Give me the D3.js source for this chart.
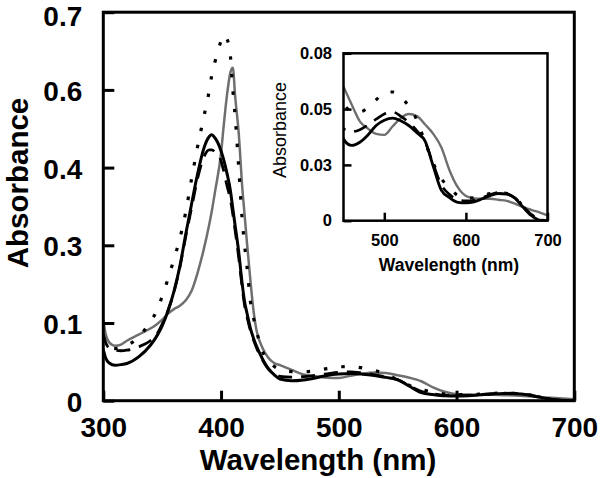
<!DOCTYPE html>
<html>
<head>
<meta charset="utf-8">
<script src="https://cdn.jsdelivr.net/npm/d3@7"></script>
<style>
  html, body { margin: 0; padding: 0; background: #fff; }
  svg { display: block; }
  text { font-family: "Liberation Sans", Arial, Helvetica, sans-serif; fill: #000; }
</style>
</head>
<body>
<svg id="chart" width="601" height="478"></svg>
<script>
// ---------------- data ----------------
const wavelengths = [300,302,305,310,315,320,330,340,345,350,355,360,365,370,375,380,385,390,392,395,400,402,405,408,410,412,415,418,420,422,425,428,430,435,440,445,450,460,470,480,490,500,510,520,530,540,550,560,570,580,590,600,610,620,630,640,650,660,670,680,690,700];

const solidBlack = [0.092,0.077,0.068,0.064,0.065,0.067,0.079,0.100,0.115,0.135,0.162,0.197,0.242,0.300,0.355,0.408,0.452,0.476,0.479,0.473,0.450,0.436,0.410,0.378,0.346,0.315,0.268,0.210,0.178,0.158,0.130,0.110,0.099,0.076,0.058,0.047,0.039,0.036,0.0375,0.041,0.0455,0.048,0.049,0.0478,0.0455,0.042,0.038,0.026,0.0145,0.011,0.0088,0.0085,0.009,0.0105,0.012,0.013,0.0127,0.0108,0.0065,0.0025,0.0003,0];

const dashedBlack = [0.120,0.105,0.095,0.091,0.090,0.091,0.097,0.108,0.118,0.138,0.163,0.196,0.240,0.296,0.348,0.400,0.437,0.452,0.452,0.448,0.432,0.416,0.388,0.362,0.336,0.306,0.258,0.203,0.172,0.152,0.126,0.107,0.096,0.074,0.058,0.049,0.044,0.0425,0.0435,0.0458,0.0485,0.051,0.052,0.050,0.047,0.043,0.0375,0.027,0.017,0.0125,0.010,0.0095,0.0098,0.011,0.0125,0.0135,0.013,0.011,0.007,0.003,0.0006,0];

const dottedBlack = [0.115,0.103,0.096,0.094,0.096,0.100,0.114,0.143,0.160,0.188,0.220,0.255,0.292,0.340,0.400,0.457,0.508,0.559,0.585,0.612,0.648,0.659,0.652,0.620,0.560,0.512,0.420,0.325,0.280,0.242,0.178,0.145,0.127,0.090,0.072,0.062,0.056,0.0525,0.052,0.054,0.0578,0.061,0.0615,0.059,0.0548,0.048,0.0375,0.0275,0.020,0.016,0.012,0.0108,0.011,0.012,0.013,0.0138,0.013,0.011,0.007,0.003,0.0006,0];

const grayLine = [0.145,0.120,0.105,0.099,0.101,0.108,0.119,0.130,0.137,0.146,0.157,0.165,0.171,0.181,0.198,0.230,0.270,0.318,0.340,0.378,0.446,0.490,0.550,0.592,0.600,0.548,0.482,0.385,0.335,0.285,0.215,0.155,0.128,0.096,0.078,0.068,0.064,0.0555,0.0475,0.044,0.0415,0.041,0.045,0.049,0.051,0.050,0.046,0.0415,0.035,0.024,0.016,0.0118,0.0107,0.0105,0.0105,0.010,0.0095,0.0082,0.0065,0.0052,0.004,0.0025];

const mainXDomain = [300, 700];
const mainYDomain = [0, 0.7];
const mainXTicks = [300, 400, 500, 600, 700];
const mainXTickLabels = ["300", "400", "500", "600", "700"];
const mainYTicks = [0, 0.14, 0.28, 0.42, 0.56, 0.7];
const mainYTickLabels = ["0", "0.1", "0.3", "0.4", "0.6", "0.7"];

const insetXDomain = [450, 700];
const insetYDomain = [0, 0.08];
const insetXTicks = [500, 600, 700];
const insetXTickLabels = ["500", "600", "700"];
const insetYTicks = [0, 0.08 / 3, 0.16 / 3, 0.08];
const insetYTickLabels = ["0", "0.03", "0.05", "0.08"];

const xTitle = "Wavelength (nm)";
const yTitle = "Absorbance";

// ---------------- drawing ----------------
const svg = d3.select("#chart");

const seriesDefs = [
  { values: grayLine,    color: "#6f6f6f", width: 2.5, dash: null },
  { values: dottedBlack, color: "#000",    width: 3.2, dash: "3.5,14" },
  { values: dashedBlack, color: "#000",    width: 2.8, dash: "14,9" },
  { values: solidBlack,  color: "#000",    width: 3,   dash: null }
];

function drawPanel(g, opts) {
  const x = d3.scaleLinear().domain(opts.xDomain).range([opts.left, opts.right]);
  const y = d3.scaleLinear().domain(opts.yDomain).range([opts.bottom, opts.top]);

  g.append("rect")
    .attr("x", opts.left).attr("y", opts.top)
    .attr("width", opts.right - opts.left).attr("height", opts.bottom - opts.top)
    .attr("fill", "#fff");

  const clipId = opts.id + "-clip";
  g.append("clipPath").attr("id", clipId)
    .append("rect")
    .attr("x", opts.left).attr("y", opts.top - 2)
    .attr("width", opts.right - opts.left).attr("height", opts.bottom - opts.top + 2);

  const line = d3.line().curve(d3.curveMonotoneX)
    .x((d, i) => x(wavelengths[i]))
    .y(d => y(d));

  const lines = g.append("g").attr("clip-path", `url(#${clipId})`);
  seriesDefs.forEach(s => {
    lines.append("path")
      .attr("d", line(s.values))
      .attr("fill", "none")
      .attr("stroke", s.color)
      .attr("stroke-width", s.width * opts.lineScale)
      .attr("stroke-dasharray", s.dash)
      .attr("stroke-linejoin", "round");
  });

  // axes
  const xAxis = d3.axisBottom(x)
    .tickValues(opts.xTicks)
    .tickSize(-opts.xTickLen)
    .tickPadding(opts.xPad)
    .tickFormat((d, i) => opts.xTickLabels[i]);
  const gx = g.append("g").attr("transform", `translate(0,${opts.bottom})`).call(xAxis);
  gx.select(".domain").remove();
  gx.selectAll(".tick line").attr("stroke", "#000").attr("stroke-width", opts.tickWidth);
  gx.selectAll(".tick text")
    .attr("font-size", opts.tickFont).attr("font-weight", "bold")
    .attr("font-family", "Liberation Sans, Arial, sans-serif").attr("fill", "#000");

  const yAxis = d3.axisLeft(y)
    .tickValues(opts.yTicks)
    .tickSize(-opts.yTickLen)
    .tickPadding(opts.yPad)
    .tickFormat((d, i) => opts.yTickLabels[i]);
  const gy = g.append("g").attr("transform", `translate(${opts.left},0)`).call(yAxis);
  gy.select(".domain").remove();
  gy.selectAll(".tick line").attr("stroke", "#000").attr("stroke-width", opts.tickWidth);
  const lastTick = opts.yTicks[opts.yTicks.length - 1];
  gy.selectAll(".tick text")
    .attr("dy", d => (d === lastTick ? opts.yTopLabelDy : opts.yLabelDy))
    .attr("font-size", opts.tickFont).attr("font-weight", "bold")
    .attr("font-family", "Liberation Sans, Arial, sans-serif").attr("fill", "#000");

  // frame
  g.append("rect")
    .attr("x", opts.left).attr("y", opts.top)
    .attr("width", opts.right - opts.left).attr("height", opts.bottom - opts.top)
    .attr("fill", "none").attr("stroke", "#000").attr("stroke-width", opts.frameWidth);

  // titles
  g.append("text")
    .attr("x", opts.xTitleX).attr("y", opts.xTitleY)
    .attr("text-anchor", "middle")
    .attr("font-size", opts.xTitleFont).attr("font-weight", "bold")
    .text(xTitle);
  g.append("text")
    .attr("transform", `translate(${opts.yTitleX},${opts.yTitleY}) rotate(-90)`)
    .attr("text-anchor", "middle")
    .attr("font-size", opts.yTitleFont).attr("font-weight", opts.yTitleWeight)
    .text(yTitle);
}

// main panel
drawPanel(svg.append("g"), {
  id: "main",
  xDomain: mainXDomain, yDomain: mainYDomain,
  left: 103.3, right: 574.3, top: 12.2, bottom: 400.7,
  xTicks: mainXTicks, xTickLabels: mainXTickLabels,
  yTicks: mainYTicks, yTickLabels: mainYTickLabels,
  xTickLen: 10, yTickLen: 11, xPad: 16.5, yPad: 21,
  yLabelDy: "0.38em", yTopLabelDy: "0.47em",
  tickWidth: 3, tickFont: 28, frameWidth: 3, lineScale: 1,
  xTitleX: 318, xTitleY: 470, xTitleFont: 29.5,
  yTitleX: 28, yTitleY: 183, yTitleFont: 29.5, yTitleWeight: "bold"
});

// inset panel
drawPanel(svg.append("g"), {
  id: "inset",
  xDomain: insetXDomain, yDomain: insetYDomain,
  left: 343.5, right: 547.5, top: 53.3, bottom: 220.7,
  xTicks: insetXTicks, xTickLabels: insetXTickLabels,
  yTicks: insetYTicks, yTickLabels: insetYTickLabels,
  xTickLen: 8, yTickLen: 8, xPad: 13.5, yPad: 11.5,
  yLabelDy: "0.32em", yTopLabelDy: "0.32em",
  tickWidth: 2.5, tickFont: 16.5, frameWidth: 2.5, lineScale: 0.95,
  xTitleX: 449, xTitleY: 271, xTitleFont: 17.5,
  yTitleX: 286, yTitleY: 130, yTitleFont: 18, yTitleWeight: "normal"
});
</script>
</body>
</html>
